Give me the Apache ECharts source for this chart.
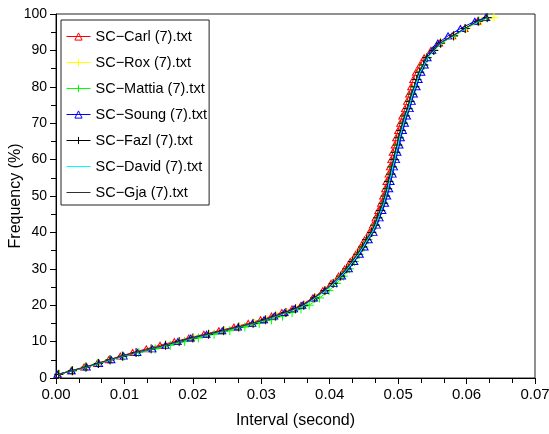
<!DOCTYPE html>
<html>
<head>
<meta charset="utf-8">
<script src="https://cdn.jsdelivr.net/npm/echarts@6/dist/echarts.min.js"></script>
<style>
html,body{margin:0;padding:0;background:#fff;}
#chart{width:549px;height:434px;}
</style>
</head>
<body>
<div id="chart"></div>
<script>
// Frequency levels (%) at which each interval was read
const freqPct = [1,2,3,4,5,6,7,8,9,10,11,12,13,14,15,16,17,18,19,20,
  22,24,26,28,30,32,34,36,38,40,42,44,46,48,50,52,54,56,58,60,
  62,64,66,68,70,72,74,76,78,80,82,84,86,88,90,92,94,96,98,99];

const seriesNames = ["SC\u2212Carl (7).txt","SC\u2212Rox (7).txt","SC\u2212Mattia (7).txt","SC\u2212Soung (7).txt","SC\u2212Fazl (7).txt","SC\u2212David (7).txt","SC\u2212Gja (7).txt"];

const carl = [0.0003,0.0022,0.0041,0.0060,0.0077,0.0094,0.0112,0.0132,0.0152,0.0173,
  0.0194,0.0216,0.0238,0.0260,0.0281,0.0299,0.0315,0.0330,0.0345,0.0358,
  0.0375,0.0390,0.0402,0.0413,0.0422,0.0430,0.0438,0.0445,0.0451,0.0458,
  0.0463,0.0467,0.0471,0.0475,0.0478,0.0481,0.0483,0.0486,0.0488,0.0490,
  0.0492,0.0495,0.0497,0.0500,0.0503,0.0506,0.0510,0.0513,0.0516,0.0519,
  0.0522,0.0526,0.0532,0.0538,0.0548,0.0560,0.0579,0.0597,0.0616,0.0629];
const rox = [0.0005,0.0025,0.0045,0.0063,0.0080,0.0098,0.0118,0.0140,0.0161,0.0181,
  0.0202,0.0224,0.0247,0.0269,0.0290,0.0308,0.0323,0.0338,0.0351,0.0363,
  0.0379,0.0394,0.0406,0.0417,0.0426,0.0434,0.0442,0.0449,0.0455,0.0462,
  0.0467,0.0471,0.0475,0.0479,0.0482,0.0485,0.0487,0.0490,0.0492,0.0495,
  0.0497,0.0500,0.0502,0.0505,0.0508,0.0511,0.0515,0.0518,0.0521,0.0525,
  0.0528,0.0532,0.0538,0.0543,0.0553,0.0563,0.0582,0.0600,0.0622,0.0640];
const mattia = [0.0004,0.0023,0.0043,0.0061,0.0079,0.0099,0.0121,0.0145,0.0167,0.0188,
  0.0208,0.0231,0.0254,0.0276,0.0297,0.0315,0.0331,0.0345,0.0358,0.0370,
  0.0385,0.0399,0.0410,0.0420,0.0429,0.0436,0.0443,0.0450,0.0456,0.0462,
  0.0467,0.0471,0.0475,0.0479,0.0482,0.0485,0.0487,0.0490,0.0492,0.0495,
  0.0497,0.0500,0.0502,0.0505,0.0508,0.0511,0.0515,0.0518,0.0521,0.0525,
  0.0528,0.0532,0.0538,0.0543,0.0552,0.0562,0.0581,0.0598,0.0618,0.0631];
const soung = [0.0002,0.0023,0.0045,0.0063,0.0081,0.0099,0.0119,0.0141,0.0160,0.0178,
  0.0197,0.0220,0.0243,0.0266,0.0287,0.0304,0.0319,0.0334,0.0348,0.0360,
  0.0377,0.0393,0.0406,0.0418,0.0428,0.0436,0.0444,0.0451,0.0457,0.0464,
  0.0469,0.0473,0.0477,0.0481,0.0484,0.0487,0.0489,0.0492,0.0494,0.0497,
  0.0499,0.0502,0.0504,0.0507,0.0510,0.0513,0.0517,0.0520,0.0523,0.0527,
  0.0530,0.0534,0.0539,0.0543,0.0550,0.0558,0.0573,0.0591,0.0612,0.0628];
const fazl = [0.0004,0.0024,0.0044,0.0062,0.0079,0.0097,0.0117,0.0139,0.0160,0.0180,
  0.0200,0.0223,0.0245,0.0267,0.0288,0.0306,0.0321,0.0336,0.0350,0.0362,
  0.0378,0.0393,0.0405,0.0416,0.0425,0.0433,0.0441,0.0448,0.0454,0.0461,
  0.0466,0.0470,0.0474,0.0478,0.0481,0.0484,0.0486,0.0489,0.0491,0.0494,
  0.0496,0.0499,0.0501,0.0504,0.0507,0.0510,0.0514,0.0517,0.0520,0.0524,
  0.0527,0.0531,0.0537,0.0542,0.0552,0.0562,0.0581,0.0598,0.0617,0.0630];
const david = [0.0004,0.0024,0.0045,0.0063,0.0080,0.0098,0.0118,0.0140,0.0161,0.0181,
  0.0201,0.0224,0.0246,0.0268,0.0289,0.0307,0.0322,0.0337,0.0351,0.0363,
  0.0379,0.0394,0.0406,0.0417,0.0426,0.0434,0.0442,0.0449,0.0455,0.0462,
  0.0467,0.0471,0.0475,0.0479,0.0482,0.0485,0.0487,0.0490,0.0492,0.0495,
  0.0497,0.0500,0.0502,0.0505,0.0508,0.0511,0.0515,0.0518,0.0521,0.0525,
  0.0528,0.0532,0.0538,0.0543,0.0553,0.0563,0.0582,0.0599,0.0618,0.0631];
const gja = [0.0004,0.0023,0.0043,0.0061,0.0078,0.0096,0.0116,0.0138,0.0159,0.0179,
  0.0199,0.0222,0.0244,0.0266,0.0287,0.0305,0.0320,0.0335,0.0349,0.0361,
  0.0377,0.0392,0.0404,0.0415,0.0424,0.0432,0.0440,0.0447,0.0453,0.0460,
  0.0465,0.0469,0.0473,0.0477,0.0480,0.0483,0.0485,0.0488,0.0490,0.0493,
  0.0495,0.0498,0.0500,0.0503,0.0506,0.0509,0.0513,0.0516,0.0519,0.0523,
  0.0526,0.0530,0.0536,0.0541,0.0551,0.0561,0.0580,0.0597,0.0616,0.0629];

const xTicks = [0,0.01,0.02,0.03,0.04,0.05,0.06,0.07];
const yTicks = [0,10,20,30,40,50,60,70,80,90,100];

const FONT = "'Liberation Sans', Arial, sans-serif";
const PLUS = 'path://M0,5L10,5M5,0L5,10';
const TRI = 'path://M5,0L10,9L0,9Z';

const styles = [
  {color:'#ff0000', symbol:TRI, size:[7,6], fill:'rgba(0,0,0,0)'},
  {color:'#ffff00', symbol:PLUS, size:9, fill:'#ffff00'},
  {color:'#00ff00', symbol:PLUS, size:9, fill:'#00ff00'},
  {color:'#0000ff', symbol:TRI, size:[7,6], fill:'rgba(0,0,0,0)'},
  {color:'#000000', symbol:PLUS, size:9, fill:'#000000'},
  {color:'#00ffff', symbol:'none', size:0, fill:'#00ffff'},
  {color:'#303030', symbol:'none', size:0, fill:'#303030'}
];
const intervals = [carl, rox, mattia, soung, fazl, david, gja];

const series = intervals.map((arr, k) => {
  const st = styles[k];
  return {
    name: seriesNames[k],
    type: 'line',
    data: arr.map((v, i) => [v, freqPct[i]]),
    symbol: st.symbol,
    symbolSize: st.size,
    showSymbol: st.symbol !== 'none',
    lineStyle: {color: st.color, width: 1},
    itemStyle: {color: st.fill, borderColor: st.color, borderWidth: 1},
    emphasis: {disabled: true},
    animation: false,
    z: 2 + k
  };
});

const legendData = seriesNames.map((n, k) => {
  if (styles[k].symbol === 'none') {
    return {name: n, itemStyle: {color: 'rgba(0,0,0,0)', borderColor: 'rgba(0,0,0,0)', borderWidth: 0, opacity: 0}};
  }
  return {name: n};
});

const chart = echarts.init(document.getElementById('chart'), null, {renderer: 'canvas'});
chart.setOption({
  backgroundColor: '#fff',
  animation: false,
  textStyle: {fontFamily: FONT},
  grid: {left: 56, right: 14, top: 14, bottom: 56, show: true, borderColor: '#222', borderWidth: 1,
    backgroundColor: 'transparent', containLabel: false, outerBoundsMode: 'none'},
  legend: {
    orient: 'vertical',
    left: 61, top: 20,
    padding: [9, 2, 5, 5],
    itemGap: 11,
    itemWidth: 24,
    itemHeight: 9,
    backgroundColor: '#fff',
    borderColor: '#222',
    borderWidth: 1,
    borderRadius: 0,
    lineStyle: {width: 1},
    itemStyle: {borderWidth: 1},
    textStyle: {fontSize: 14.5, color: '#000', fontFamily: FONT},
    data: legendData
  },
  xAxis: {
    type: 'value',
    min: xTicks[0], max: xTicks[xTicks.length - 1], interval: 0.01,
    name: 'Interval (second)',
    nameLocation: 'middle',
    nameGap: 35,
    nameMoveOverlap: false,
    nameTextStyle: {fontSize: 16, color: '#000', fontFamily: FONT},
    axisLine: {show: true, lineStyle: {color: '#000', width: 1}},
    axisTick: {show: true, length: 6, lineStyle: {color: '#000'}},
    minorTick: {show: true, splitNumber: 3, length: 5, lineStyle: {color: '#000'}},
    axisLabel: {fontSize: 15, color: '#000', margin: 9, fontFamily: FONT,
      formatter: v => v.toFixed(2)},
    splitLine: {show: false}
  },
  yAxis: {
    type: 'value',
    min: yTicks[0], max: yTicks[yTicks.length - 1], interval: 10,
    name: 'Frequency (%)',
    nameLocation: 'middle',
    nameGap: 32,
    nameMoveOverlap: false,
    nameTextStyle: {fontSize: 16, color: '#000', fontFamily: FONT},
    axisLine: {show: true, lineStyle: {color: '#000', width: 1}},
    axisTick: {show: true, length: 6, lineStyle: {color: '#000'}},
    minorTick: {show: true, splitNumber: 2, length: 5, lineStyle: {color: '#000'}},
    axisLabel: {fontSize: 14, color: '#000', margin: 9, fontFamily: FONT},
    splitLine: {show: false}
  },
  series: series
});
</script>
</body>
</html>
